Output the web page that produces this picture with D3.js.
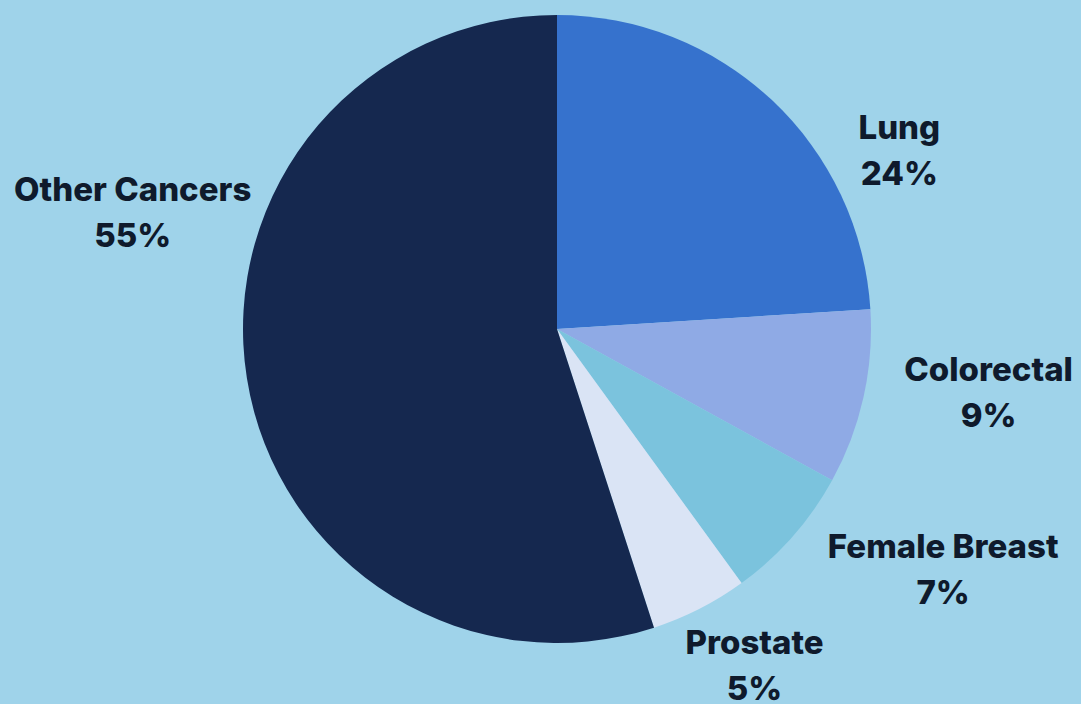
<!DOCTYPE html>
<html>
<head>
<meta charset="utf-8">
<script src="https://cdn.jsdelivr.net/npm/d3@7"></script>
<style>
  html, body { margin: 0; padding: 0; background: #9fd3ea; }
  svg { display: block; }
  text { font-family: Inter, "Open Sans", sans-serif; font-weight: 800; fill: #0f1a2c; }
</style>
</head>
<body>
<svg id="chart" width="1081" height="704"></svg>
<script>
// Share of cancer cases by site
const categories = ["Lung", "Colorectal", "Female Breast", "Prostate", "Other Cancers"];
const shares = [24, 9, 7, 5, 55];
const percentLabels = ["24%", "9%", "7%", "5%", "55%"];
const colors = ["#3672cd", "#8faae5", "#7bc3dd", "#dae4f5", "#15284f"];

// Label placement: angle (degrees clockwise from 12 o'clock) and distance as a multiple of the radius
const labelPlacement = {
  "Lung":          { angle: 64,    dist: 1.213 },
  "Colorectal":    { angle: 99.8,  dist: 1.395 },
  "Female Breast": { angle: 123.1, dist: 1.468 },
  "Prostate":      { angle: 150.4, dist: 1.274 },
  "Other Cancers": { angle: 283.9, dist: 1.392 }
};

const width = 1081, height = 704;
const cx = 557, cy = 329, radius = 314;

const svg = d3.select("#chart");
svg.append("rect").attr("width", width).attr("height", height).attr("fill", "#9fd3ea");

const data = categories.map((c, i) => ({ name: c, value: shares[i], label: percentLabels[i], color: colors[i] }));

const pie = d3.pie().value(d => d.value).sort(null);
const arc = d3.arc().innerRadius(0).outerRadius(radius);

const g = svg.append("g").attr("transform", `translate(${cx},${cy})`);

g.selectAll("path.slice")
  .data(pie(data))
  .join("path")
  .attr("class", "slice")
  .attr("d", arc)
  .attr("fill", d => d.data.color);

const labels = g.selectAll("text.lbl")
  .data(pie(data))
  .join("text")
  .attr("class", "lbl")
  .attr("text-anchor", "middle")
  .attr("font-size", 33)
  .attr("transform", d => {
    const p = labelPlacement[d.data.name];
    const a = p.angle * Math.PI / 180;
    const r = radius * p.dist;
    return `translate(${r * Math.sin(a)},${-r * Math.cos(a)})`;
  });

labels.append("tspan").attr("x", 0).attr("y", -23).text(d => d.data.name);
labels.append("tspan").attr("x", 0).attr("y", 23).text(d => d.data.label);
</script>
</body>
</html>
